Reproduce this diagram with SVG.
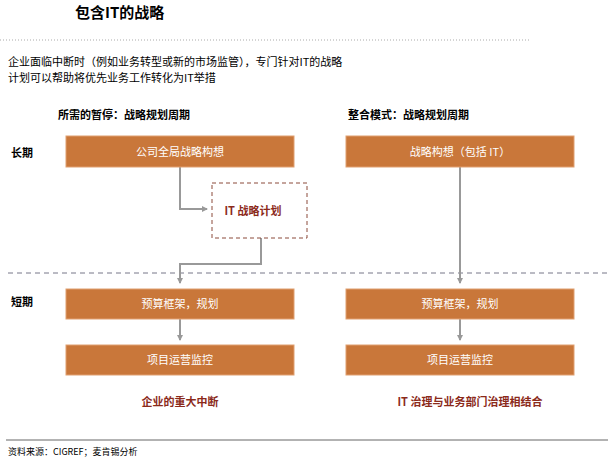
<svg xmlns="http://www.w3.org/2000/svg" width="608" height="459" viewBox="0 0 608 459">
<style>
text{font-family:"Noto Sans CJK SC","Liberation Sans",sans-serif;}
.box{fill:#C9773A;stroke:#E0A070;stroke-width:1}
.bt{fill:#fff;font-size:11px;text-anchor:middle}
.lab{fill:#000;font-size:11px;font-weight:bold}
.red{fill:#8B2A1A;font-size:11px;font-weight:bold;text-anchor:middle}
.con{fill:none;stroke:#999;stroke-width:2}
</style>
<defs><marker id="ah" markerWidth="6" markerHeight="6" refX="5" refY="3" orient="auto" markerUnits="userSpaceOnUse"><path d="M0,0L6,3L0,6z" fill="#999"/></marker></defs>
<rect width="608" height="459" fill="#fff"/>
<text x="75" y="18" font-size="15" font-weight="bold" fill="#000">包含IT的战略</text>
<line x1="0" y1="40" x2="530" y2="40" stroke="#aaa" stroke-dasharray="1,2"/>
<text x="8" y="66" font-size="11">企业面临中断时（例如业务转型或新的市场监管），专门针对IT的战略</text>
<text x="8" y="82" font-size="11">计划可以帮助将优先业务工作转化为IT举措</text>
<text class="lab" x="58" y="119">所需的暂停：战略规划周期</text>
<text class="lab" x="348" y="119">整合模式：战略规划周期</text>
<text class="lab" x="11" y="157">长期</text>
<text class="lab" x="11" y="306">短期</text>
<line x1="8" y1="273" x2="608" y2="273" stroke="#778" stroke-dasharray="5,4"/>
<g id="connectors">
<path class="con" d="M180,167V209H207" marker-end="url(#ah)"/>
<path class="con" d="M261,238V264H180V283" marker-end="url(#ah)"/>
<path class="con" d="M460,167V283" marker-end="url(#ah)"/>
<path class="con" d="M180,319V340" marker-end="url(#ah)"/>
<path class="con" d="M460,319V340" marker-end="url(#ah)"/>
</g>
<g id="n1"><rect class="box" x="66" y="136" width="228" height="31"/><text class="bt" x="180" y="156">公司全局战略构想</text></g>
<g id="n2"><rect x="212" y="183" width="95" height="55" fill="#fff" stroke="#8B4A3A" stroke-dasharray="4,3"/><text class="red" x="253" y="215">IT 战略计划</text></g>
<g id="n3"><rect class="box" x="66" y="289" width="228" height="30"/><text class="bt" x="180" y="308">预算框架，规划</text></g>
<g id="n4"><rect class="box" x="66" y="345" width="228" height="30"/><text class="bt" x="180" y="364">项目运营监控</text></g>
<g id="n5"><rect class="box" x="346" y="136" width="228" height="31"/><text class="bt" x="460" y="156">战略构想（包括 IT）</text></g>
<g id="n6"><rect class="box" x="346" y="289" width="228" height="30"/><text class="bt" x="460" y="308">预算框架，规划</text></g>
<g id="n7"><rect class="box" x="346" y="345" width="228" height="30"/><text class="bt" x="460" y="364">项目运营监控</text></g>
<text class="red" x="180" y="406">企业的重大中断</text>
<text class="red" x="470" y="406">IT 治理与业务部门治理相结合</text>
<line x1="6" y1="440" x2="608" y2="440" stroke="#666" stroke-width="1"/>
<text x="8" y="455" font-size="9" font-family="Noto Sans CJK SC,serif">资料来源：CIGREF；麦肯锡分析</text>
</svg>
